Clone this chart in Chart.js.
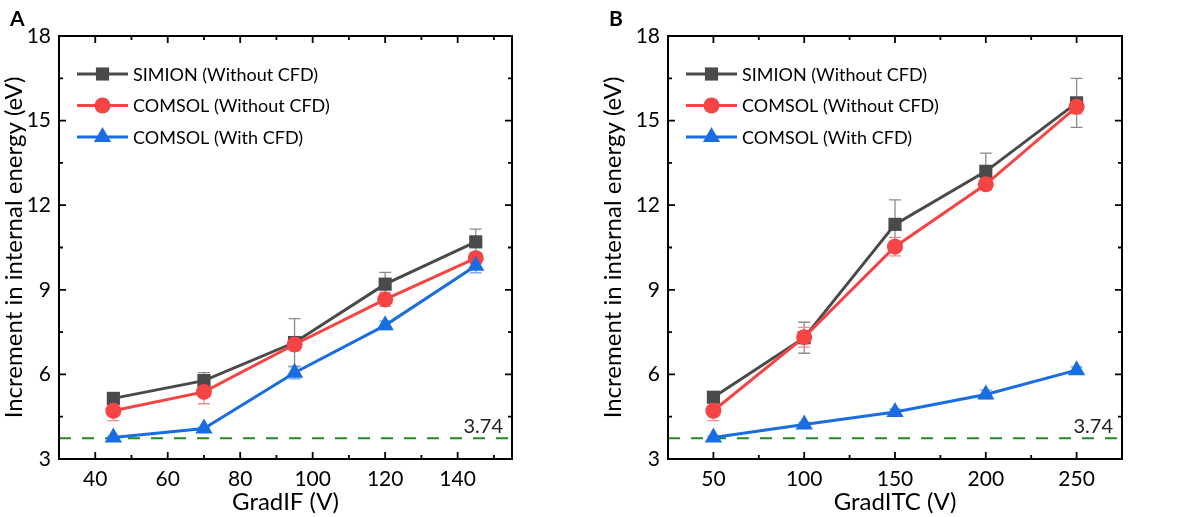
<!DOCTYPE html>
<html>
<head>
<meta charset="utf-8">
<script src="https://cdn.jsdelivr.net/npm/chart.js@4.4.0/dist/chart.umd.min.js"></script>
<style>
  body { margin: 0; background: #fff; width: 1198px; height: 517px; overflow: hidden; }
  .panel { position: absolute; top: 0; width: 599px; height: 517px; }
  .tag { position: absolute; top: 5px; font: bold 21px Lato, sans-serif; color: #000; }
</style>
</head>
<body>
<div class="panel" style="left:0"><canvas id="chartA" width="599" height="517"></canvas></div>
<div class="panel" style="left:599px"><canvas id="chartB" width="599" height="517"></canvas></div>
<div class="tag" style="left:10px">A</div>
<div class="tag" style="left:609px">B</div>
<script>
// Data
const seriesNames = ['SIMION (Without CFD)', 'COMSOL (Without CFD)', 'COMSOL (With CFD)'];

const gradIF = [45, 70, 95, 120, 145];
const simionA = [5.15, 5.78, 7.13, 9.2, 10.7];
const simionAErr = [0.1, 0.28, 0.85, 0.42, 0.45];
const comsolA = [4.71, 5.38, 7.06, 8.66, 10.12];
const comsolAErr = [0.35, 0.42, 0.22, 0.25, 0.2];
const cfdA = [3.76, 4.08, 6.06, 7.74, 9.85];
const cfdAErr = [0.05, 0.05, 0.22, 0.15, 0.25];

const gradITC = [50, 100, 150, 200, 250];
const simionB = [5.19, 7.3, 11.32, 13.2, 15.63];
const simionBErr = [0.1, 0.55, 0.87, 0.65, 0.87];
const comsolB = [4.71, 7.32, 10.53, 12.74, 15.49];
const comsolBErr = [0.35, 0.35, 0.33, 0.2, 0.25];
const cfdB = [3.76, 4.22, 4.67, 5.29, 6.15];
const cfdBErr = [0.05, 0.08, 0.1, 0.15, 0.12];

const threshold = 3.74;

// Tick labels
const yTicks = [3, 6, 9, 12, 15, 18];
const yMinor = [4.5, 7.5, 10.5, 13.5, 16.5];
const xTicksA = [40, 60, 80, 100, 120, 140];
const xMinorA = [50, 70, 90, 110, 130, 150];
const xTicksB = [50, 100, 150, 200, 250];
const xMinorB = [75, 125, 175, 225];

const lineColors = ['#4a4a4a', '#f44444', '#1a6de0'];
const errColors = ['#8c8c8c', '#f78a8a', '#6a9fe8'];
const pointStyles = ['rect', 'circle', 'triangle'];
const pointRadii = [9.3, 8, 10];
const FONT = 'Lato, "Open Sans", sans-serif';

// error bars + threshold line under the data
const underlay = {
  id: 'underlay',
  beforeDatasetsDraw(chart) {
    const ctx = chart.ctx;
    const area = chart.chartArea;
    const ys = chart.scales.y;
    const yT = ys.getPixelForValue(threshold);
    ctx.save();
    ctx.strokeStyle = '#1f8a1f';
    ctx.lineWidth = 2;
    ctx.setLineDash([12, 11]);
    ctx.beginPath();
    ctx.moveTo(area.left, yT);
    ctx.lineTo(area.right, yT);
    ctx.stroke();
    ctx.setLineDash([]);
    ctx.fillStyle = '#222';
    ctx.font = '20px ' + FONT;
    ctx.textAlign = 'right';
    ctx.textBaseline = 'bottom';
    ctx.fillText(threshold.toFixed(2), area.right - 9, yT - 2);

    chart.data.datasets.forEach((ds, i) => {
      const meta = chart.getDatasetMeta(i);
      ctx.strokeStyle = errColors[i];
      ctx.lineWidth = 1.3;
      meta.data.forEach((pt, j) => {
        const v = ds.data[j].y, e = ds.errors[j];
        const top = ys.getPixelForValue(v + e);
        const bot = ys.getPixelForValue(v - e);
        ctx.beginPath();
        ctx.moveTo(pt.x, top); ctx.lineTo(pt.x, bot);
        ctx.moveTo(pt.x - 6, top); ctx.lineTo(pt.x + 6, top);
        ctx.moveTo(pt.x - 6, bot); ctx.lineTo(pt.x + 6, bot);
        ctx.stroke();
      });
    });
    ctx.restore();
  }
};

// frame, inward ticks and legend
const overlay = {
  id: 'overlay',
  afterDraw(chart) {
    const ctx = chart.ctx;
    const a = chart.chartArea;
    const xs = chart.scales.x, ys = chart.scales.y;
    const opt = chart.options.plugins.overlay;
    ctx.save();
    ctx.strokeStyle = '#000';
    ctx.lineWidth = 2;
    ctx.strokeRect(a.left, a.top, a.right - a.left, a.bottom - a.top);
    ctx.lineWidth = 1.8;
    ctx.beginPath();
    const xt = (vals, len) => vals.forEach(v => {
      const px = xs.getPixelForValue(v);
      ctx.moveTo(px, a.bottom); ctx.lineTo(px, a.bottom - len);
      ctx.moveTo(px, a.top); ctx.lineTo(px, a.top + len);
    });
    const yt = (vals, len) => vals.forEach(v => {
      const py = ys.getPixelForValue(v);
      ctx.moveTo(a.left, py); ctx.lineTo(a.left + len, py);
      ctx.moveTo(a.right, py); ctx.lineTo(a.right - len, py);
    });
    xt(opt.xMajor, 7); xt(opt.xMinor, 4);
    yt(yTicks, 7); yt(yMinor, 4);
    ctx.stroke();

    // legend
    ctx.font = '18px ' + FONT;
    ctx.textAlign = 'left';
    ctx.textBaseline = 'middle';
    seriesNames.forEach((name, i) => {
      const y = a.top + 38 + i * 31.5;
      const x0 = a.left + 18, x1 = a.left + 69;
      ctx.strokeStyle = lineColors[i];
      ctx.lineWidth = 3;
      ctx.beginPath(); ctx.moveTo(x0, y); ctx.lineTo(x1, y); ctx.stroke();
      ctx.fillStyle = lineColors[i];
      Chart.helpers.drawPoint(ctx, { pointStyle: pointStyles[i], radius: pointRadii[i], borderWidth: 0, rotation: 0 }, (x0 + x1) / 2, y);
      ctx.fillStyle = '#000';
      ctx.fillText(name, x1 + 5, y + 1);
    });
    ctx.restore();
  }
};

function makePanel(id, xVals, ys, errs, xMin, xMax, xMajor, xMinor, xTitle, plotLeft, plotRight) {
  const W = 599;
  const datasets = ys.map((vals, i) => ({
    label: seriesNames[i],
    data: xVals.map((x, j) => ({ x: x, y: vals[j] })),
    errors: errs[i],
    borderColor: lineColors[i],
    backgroundColor: lineColors[i],
    borderWidth: 3,
    pointStyle: pointStyles[i],
    pointRadius: pointRadii[i],
    pointBorderWidth: 0,
    order: 3 - i
  }));
  return new Chart(document.getElementById(id), {
    type: 'line',
    data: { datasets },
    plugins: [underlay, overlay],
    options: {
      responsive: false,
      animation: false,
      events: [],
      layout: { padding: { left: 0, top: 36, right: W - plotRight, bottom: 0 } },
      plugins: {
        legend: { display: false },
        tooltip: { enabled: false },
        overlay: { xMajor, xMinor }
      },
      scales: {
        x: {
          type: 'linear', min: xMin, max: xMax,
          afterBuildTicks: s => { s.ticks = xMajor.map(v => ({ value: v })); },
          afterFit: s => { s.height = 517 - 459; },
          grid: { display: false, drawTicks: false },
          border: { display: false },
          ticks: { color: '#000', font: { family: FONT, size: 21 }, padding: 8, maxRotation: 0 },
          title: { display: true, text: xTitle, color: '#000', font: { family: FONT, size: 24 }, padding: { top: 0, bottom: 0 } }
        },
        y: {
          min: 3, max: 18,
          afterBuildTicks: s => { s.ticks = yTicks.map(v => ({ value: v })); },
          afterFit: s => { s.width = plotLeft; },
          grid: { display: false, drawTicks: false },
          border: { display: false },
          ticks: { color: '#000', font: { family: FONT, size: 21 }, padding: 8 },
          title: { display: true, text: 'Increment in internal energy (eV)', color: '#000', font: { family: FONT, size: 24 }, padding: { top: 0, bottom: 0 } }
        }
      }
    }
  });
}

makePanel('chartA', gradIF,
  [simionA, comsolA, cfdA], [simionAErr, comsolAErr, cfdAErr],
  30, 155, xTicksA, xMinorA, 'GradIF (V)', 59, 512);
makePanel('chartB', gradITC,
  [simionB, comsolB, cfdB], [simionBErr, comsolBErr, cfdBErr],
  25, 275, xTicksB, xMinorB, 'GradITC (V)', 69, 523);
</script>
</body>
</html>
